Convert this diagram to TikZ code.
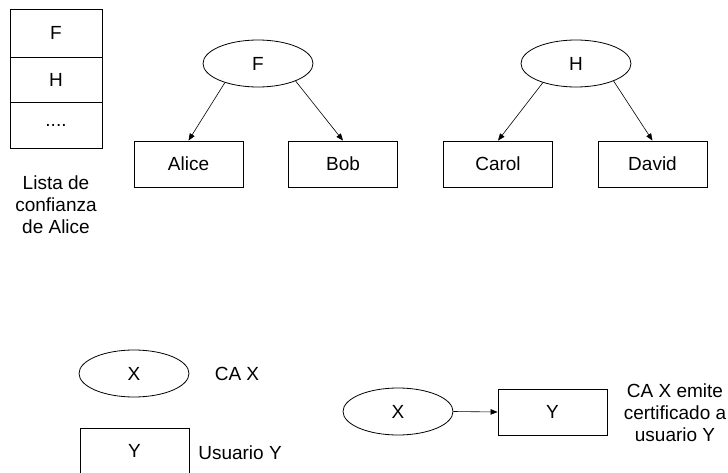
\documentclass[tikz,border=0pt]{standalone}
\usepackage{fontspec}
\setmainfont{Liberation Sans}
\usetikzlibrary{arrows.meta,shapes.geometric}
\begin{document}
\begin{tikzpicture}[x=1pt,y=-1pt,
  every node/.style={font=\fontsize{19}{22}\selectfont},
  ca/.style={draw, ellipse, minimum width=110pt, minimum height=47pt, inner sep=0pt, line width=0.8pt},
  user/.style={draw, rectangle, minimum width=109pt, minimum height=46pt, inner sep=0pt, line width=0.8pt},
  cell/.style={draw, rectangle, minimum width=92pt, inner sep=0pt, line width=0.8pt},
  lbl/.style={align=center, inner sep=0pt},
  arr/.style={-{Triangle[length=7pt,width=5.5pt]}, line width=0.6pt}]
\useasboundingbox (0,0) rectangle (728,473);
% trust list
\node[cell, minimum height=48pt] (l1) at (56,33) {F};
\node[cell, minimum height=45pt] (l2) at (56,79.5) {H};
\node[cell, minimum height=46pt] (l3) at (56,125) {....};
\node[lbl] (lt) at (56,205) {Lista de\\confianza\\de Alice};
% tree F
\node[ca] (F) at (258,63.5) {F};
\node[user] (alice) at (188.5,164) {Alice};
\node[user] (bob) at (343,164) {Bob};
\draw[arr] (F.210) -- (alice.north);
\draw[arr] (F.335) -- (bob.north);
% tree H
\node[ca] (H) at (576,63.5) {H};
\node[user] (carol) at (498,164) {Carol};
\node[user] (david) at (652.5,164) {David};
\draw[arr] (H.210) -- (carol.north);
\draw[arr] (H.335) -- (david.north);
% legend
\node[ca] (lx) at (134,373.5) {X};
\node[lbl] (lcax) at (237,373.5) {CA X};
\node[user] (ly) at (134.5,451) {Y};
\node[lbl] (luy) at (240,453) {Usuario Y};
% example
\node[ca] (ex) at (398,411.5) {X};
\node[user] (ey) at (552.5,412) {Y};
\draw[arr] (ex.east) -- (ey.west);
\node[lbl] (etxt) at (675,413) {CA X emite\\certificado a\\usuario Y};
\end{tikzpicture}
\end{document}
